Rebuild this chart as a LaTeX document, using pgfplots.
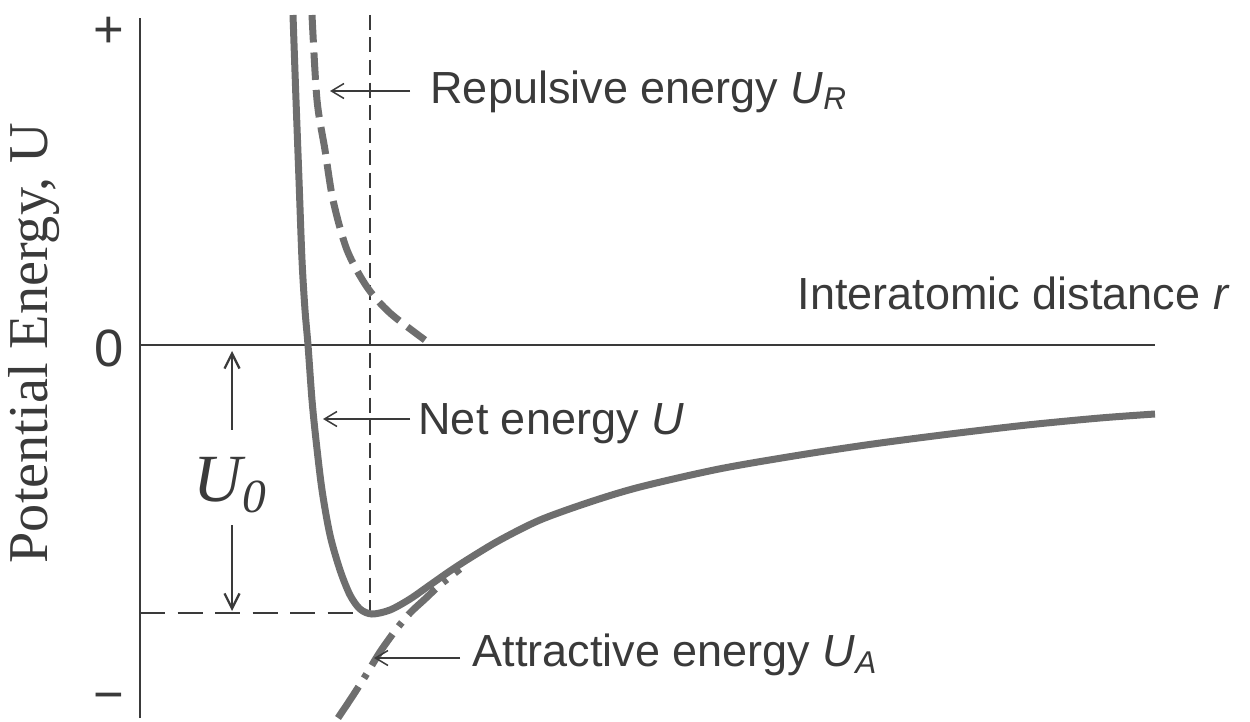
\documentclass[border=0pt]{standalone}
\usepackage{pgfplots}
\pgfplotsset{compat=1.18}
\usetikzlibrary{arrows.meta}
\usepackage{fontspec}
\setmainfont{Liberation Sans}
\newfontfamily\serif{Liberation Serif}
\definecolor{curve}{HTML}{6E6E6E}
\definecolor{ink}{HTML}{3A3A3A}

\begin{document}
\begin{tikzpicture}[
    ann/.style={draw=ink, line width=0.6pt, -{Straight Barb[length=5pt,width=6pt]}},
    lab/.style={text=ink, font=\fontsize{18}{18}\selectfont, inner sep=0pt},
]
\begin{axis}[
    scale only axis, width=406pt, height=280pt,
    xmin=0, xmax=1015, ymin=-373, ymax=327,
    axis x line=none, axis y line=left,
    y axis line style={-, ink, line width=0.9pt},
    ytick={-358,-3,313}, yticklabels={−,0,+},
    major tick length=0pt,
    yticklabel style={font=\fontsize{21}{21}\selectfont, text=ink, xshift=-3pt},
    clip=false,
]
% bounding box of the whole figure
\path (axis cs:-140,345) (axis cs:1110,-373);

% zero line
\addplot[ink, line width=0.8pt] coordinates {(0,0) (1015,0)};

% equilibrium guides
\addplot[ink, line width=0.7pt, dash pattern=on 6pt off 3pt] coordinates {(230,330) (230,-268)};
\addplot[ink, line width=0.7pt, dash pattern=on 10pt off 5pt] coordinates {(0,-268) (230,-268)};

% attractive energy (dash-dot)
\addplot[curve, line width=2.8pt, line cap=butt, dash pattern=on 15pt off 4pt on 2pt off 4pt, smooth]
coordinates {(198,-373) (212,-352) (226,-330) (240,-307) (255,-286) (270,-268) (285,-254) (300,-240) (320,-224)};

% repulsive energy (dashed)
\addplot[curve, line width=2.8pt, line cap=butt, dash pattern=on 11pt off 4pt, smooth]
coordinates {(172,330) (177,245) (185,195) (193,145) (207,95) (227,58) (250,32) (285,5)};

% net energy
\addplot[curve, line width=2.8pt, smooth]
coordinates {(153,330) (156,245) (159,165) (162,85) (165,35) (168,0) (172,-55) (176,-95)
 (182,-145) (190,-190) (200,-225) (210,-250) (220,-264) (232,-269) (250,-265) (270,-254)
 (290,-240) (310,-226) (330,-213) (360,-195) (400,-175) (450,-157) (500,-142) (579,-124)
 (660,-110) (733,-99) (810,-89) (887,-80) (960,-73) (1015,-69)};

% U0 arrows
\draw[ink, line width=0.9pt, -{Straight Barb[length=6pt,width=6pt]}] (axis cs:92,-85) -- (axis cs:92,-6);
\draw[ink, line width=0.9pt, -{Straight Barb[length=6pt,width=6pt]}] (axis cs:92,-180) -- (axis cs:92,-266);
\node[text=ink, font=\serif\itshape\fontsize{27}{27}\selectfont, inner sep=0pt] at (axis cs:90,-140) {U\raisebox{-0.35ex}{\fontsize{19}{19}\selectfont 0}};

% annotation arrows
\draw[ann] (axis cs:270,254) -- (axis cs:190,254);
\draw[ann] (axis cs:270,-74) -- (axis cs:183,-74);
\draw[ann] (axis cs:320,-313) -- (axis cs:234,-313);

% labels
\node[lab, anchor=base west] at (axis cs:290,242) {Repulsive energy \textit{U}\textsubscript{\textit{R}}};
\node[lab, anchor=base east] at (axis cs:1090,35) {Interatomic distance \textit{r}};
\node[lab, anchor=base west] at (axis cs:278,-90) {Net energy \textit{U}};
\node[lab, anchor=base west] at (axis cs:332,-322) {Attractive energy \textit{U}\textsubscript{\textit{A}}};

% y label
\node[text=ink, rotate=90, font=\serif\fontsize{22.5}{22.5}\selectfont, inner sep=0pt] at (axis cs:-106,2) {Potential Energy, U};
\end{axis}
\end{tikzpicture}
\end{document}
